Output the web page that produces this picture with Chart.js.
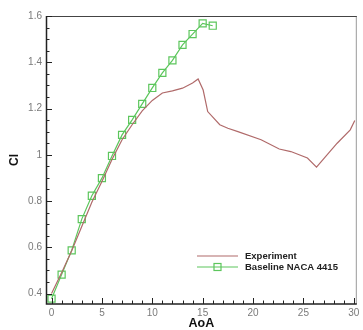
<!DOCTYPE html>
<html>
<head>
<meta charset="utf-8">
<script src="https://cdn.jsdelivr.net/npm/chart.js@4"></script>
<style>
  html, body { margin: 0; padding: 0; background: #fff; }
  #wrap { width: 363px; height: 330px; }
</style>
</head>
<body>
<div id="wrap"><canvas id="clChart" width="363" height="330"></canvas></div>
<script>
// data
const aoaExp = [0, 1, 2, 3, 4, 5, 6, 7, 8, 9, 10, 11, 12, 13, 14, 14.55, 15.05, 15.5, 16.7, 17.5, 18.5, 20.8, 22.6, 23.75, 25.4, 26.3, 28.35, 29.65, 30.1];
const clExp = [0.40, 0.49, 0.585, 0.69, 0.795, 0.885, 0.98, 1.065, 1.13, 1.19, 1.235, 1.267, 1.276, 1.288, 1.31, 1.328, 1.28, 1.187, 1.13, 1.115, 1.10, 1.065, 1.025, 1.014, 0.986, 0.947, 1.05, 1.108, 1.148];
const aoaBase = [0, 1, 2, 3, 4, 5, 6, 7, 8, 9, 10, 11, 12, 13, 14, 15, 16];
const clBase = [0.378, 0.482, 0.587, 0.722, 0.823, 0.899, 0.995, 1.086, 1.151, 1.22, 1.289, 1.354, 1.408, 1.475, 1.522, 1.568, 1.558];
const xTicks = [0, 5, 10, 15, 20, 25, 30];
const yTicks = [0.4, 0.6, 0.8, 1, 1.2, 1.4, 1.6];

const C = {
  exp: '#b06a6a',
  base: '#5cc65c',
  axis: '#222',
  tick: '#7a7a7a',
};

const pts = (xs, ys) => xs.map((x, i) => ({ x, y: ys[i] }));

// inward major/minor ticks + frame, tecplot style
const frame = {
  id: 'frame',
  afterDraw(chart) {
    const { ctx, chartArea: a, scales: { x, y } } = chart;
    ctx.save();
    ctx.lineWidth = 1;
    ctx.strokeStyle = '#999';
    ctx.beginPath();
    ctx.moveTo(a.right - 0.5, a.top); ctx.lineTo(a.right - 0.5, a.bottom);
    ctx.stroke();
    ctx.strokeStyle = '#444';
    ctx.beginPath();
    ctx.moveTo(a.left, a.top + 0.5); ctx.lineTo(a.right, a.top + 0.5);
    ctx.stroke();
    ctx.strokeStyle = C.axis;
    ctx.lineWidth = 1.5;
    ctx.beginPath();
    ctx.moveTo(a.left + 0.5, a.top); ctx.lineTo(a.left + 0.5, a.bottom);
    ctx.lineTo(a.right, a.bottom);
    ctx.stroke();
    ctx.lineWidth = 1;
    ctx.beginPath();
    for (let v = 0; v <= 30; v += 1) {
      const px = Math.round(x.getPixelForValue(v)) + 0.5;
      const len = v % 5 === 0 ? 6 : 3.5;
      ctx.moveTo(px, a.bottom); ctx.lineTo(px, a.bottom - len);
    }
    for (let k = 8; k <= 32; k++) {
      const v = k * 0.05;
      const py = Math.round(y.getPixelForValue(v)) + 0.5;
      const len = k % 4 === 0 ? 6 : 3.5;
      ctx.moveTo(a.left, py); ctx.lineTo(a.left + len, py);
    }
    ctx.stroke();

    // legend inside the plot
    const items = chart.data.datasets;
    const lx0 = 197, lx1 = 238, ly = [256, 267];
    ctx.font = "bold 9.5px 'Liberation Sans', Arial, sans-serif";
    ctx.textBaseline = 'middle';
    items.forEach((ds, i) => {
      ctx.strokeStyle = ds.borderColor;
      ctx.lineWidth = 1.2;
      ctx.beginPath();
      ctx.moveTo(lx0, ly[i]); ctx.lineTo(lx1, ly[i]);
      ctx.stroke();
      if (ds.pointRadius > 0) {
        ctx.strokeRect(214, ly[i] - 3.5, 7, 7);
      }
      ctx.fillStyle = '#222';
      ctx.fillText(ds.label, 245, ly[i] + 0.5);
    });
    ctx.restore();
  },
};

new Chart(document.getElementById('clChart'), {
  type: 'scatter',
  data: {
    datasets: [{
      label: 'Experiment',
      data: pts(aoaExp, clExp),
      showLine: true,
      borderColor: C.exp,
      borderWidth: 1.2,
      pointRadius: 0,
      tension: 0,
    }, {
      label: 'Baseline NACA 4415',
      data: pts(aoaBase, clBase),
      showLine: true,
      borderColor: C.base,
      borderWidth: 1.2,
      pointStyle: 'rect',
      pointRadius: 5,
      pointBorderWidth: 1.2,
      pointBorderColor: C.base,
      pointBackgroundColor: 'rgba(0,0,0,0)',
      tension: 0,
    }],
  },
  options: {
    responsive: false,
    animation: false,
    layout: { padding: { top: 16, right: 2, left: 0, bottom: 0 } },
    plugins: { legend: { display: false }, tooltip: { enabled: false } },
    scales: {
      x: {
        type: 'linear',
        min: -0.55,
        max: 30.3,
        afterBuildTicks: s => { s.ticks = xTicks.map(value => ({ value })); },
        afterFit: s => { s.height = 26; },
        grid: { display: false, drawTicks: false },
        border: { display: false },
        ticks: {
          color: C.tick,
          padding: 3,
          maxRotation: 0,
          font: { size: 10, family: "'Liberation Sans', Arial, sans-serif" },
        },
        title: {
          display: true,
          text: 'AoA',
          color: '#111',
          padding: { top: 0, bottom: 0 },
          font: { size: 12.5, weight: 'bold', lineHeight: 1, family: "'Liberation Sans', Arial, sans-serif" },
        },
      },
      y: {
        type: 'linear',
        min: 0.355,
        max: 1.6,
        afterBuildTicks: s => { s.ticks = yTicks.map(value => ({ value })); },
        afterFit: s => { s.width = 46; },
        grid: { display: false, drawTicks: false },
        border: { display: false },
        ticks: {
          color: C.tick,
          padding: 4,
          font: { size: 10, family: "'Liberation Sans', Arial, sans-serif" },
          callback: v => String(+v.toFixed(1)),
        },
        title: {
          display: true,
          text: 'Cl',
          color: '#111',
          padding: { top: 7, bottom: 0 },
          font: { size: 12, weight: 'bold', family: "'Liberation Sans', Arial, sans-serif" },
        },
      },
    },
  },
  plugins: [frame],
});
</script>
</body>
</html>
